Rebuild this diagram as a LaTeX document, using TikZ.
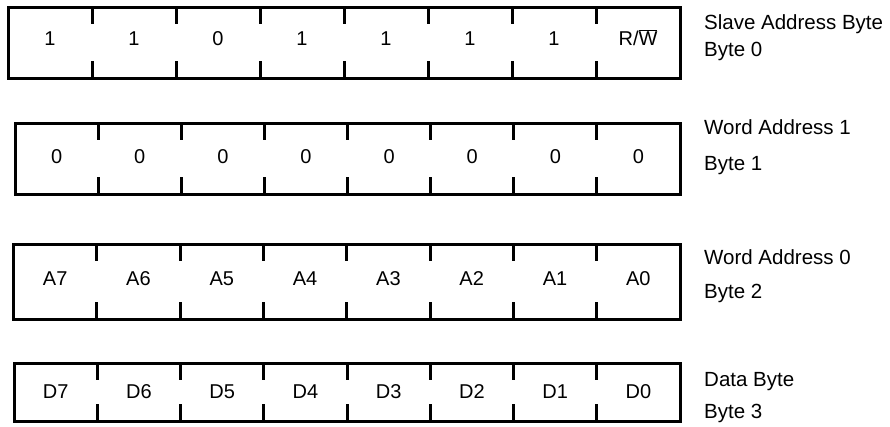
\documentclass[tikz,border=0pt]{standalone}
\usepackage{fontspec}
\setmainfont{Liberation Sans}
\newcommand{\byterow}[6]{%
  \pgfmathsetmacro{\cw}{(680-#2)/8}%
  \draw[frame] (#2,#3) rectangle (680,#4);
  \foreach \t [count=\i] in {#6} {
    \pgfmathsetmacro{\xc}{#2+(\i-0.5)*\cw}
    \node[cell] (#1-\i) at (\xc,#5) {\t};
    \ifnum\i<8
      \pgfmathsetmacro{\xd}{#2+\i*\cw}
      \draw[tick] (\xd,#3) -- (\xd,#3+17);
      \draw[tick] (\xd,#4-17) -- (\xd,#4);
    \fi
  }
}
\begin{document}
\begin{tikzpicture}[x=1pt,y=-1pt,
  cell/.style={inner sep=0pt, anchor=base, font=\fontsize{20}{24}\selectfont},
  lbl/.style={inner sep=0pt, anchor=base west, font=\fontsize{20.5}{24}\selectfont},
  frame/.style={draw=black, line width=3pt},
  tick/.style={draw=black, line width=3pt}]
\useasboundingbox (0,0) rectangle (890,426);
\byterow{r0}{8}{7}{78}{45}{1,1,0,1,1,1,1,{R/$\overline{\mbox{W}}$}}
\byterow{r1}{15}{123}{194}{163}{0,0,0,0,0,0,0,0}
\byterow{r2}{13.5}{244}{319}{285}{A7,A6,A5,A4,A3,A2,A1,A0}
\byterow{r3}{14}{363}{421}{398}{D7,D6,D5,D4,D3,D2,D1,D0}
\node[lbl] (l0a) at (704,29) {Slave Address Byte};
\node[lbl] (l0b) at (704,56) {Byte 0};
\node[lbl] (l1a) at (704,134) {Word Address 1};
\node[lbl] (l1b) at (704,170) {Byte 1};
\node[lbl] (l2a) at (704,264) {Word Address 0};
\node[lbl] (l2b) at (704,298) {Byte 2};
\node[lbl] (l3a) at (704,386) {Data Byte};
\node[lbl] (l3b) at (704,418) {Byte 3};
\end{tikzpicture}
\end{document}
